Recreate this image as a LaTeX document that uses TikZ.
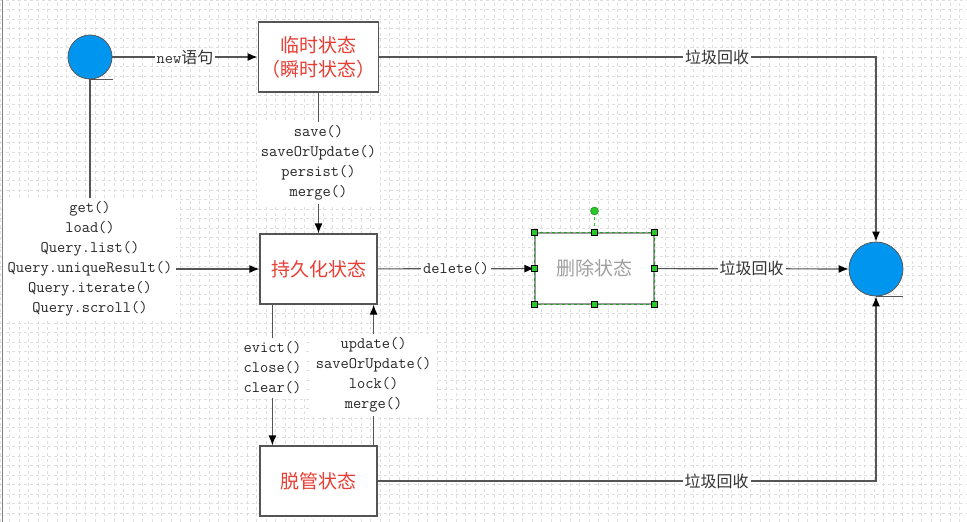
\documentclass[tikz,border=0pt]{standalone}
\usepackage{fontspec}
\newfontfamily\cjk{Noto Sans CJK SC}
\usetikzlibrary{arrows.meta, positioning, calc}
\definecolor{ballblue}{RGB}{0,150,240}
\definecolor{statered}{RGB}{232,62,52}
\definecolor{linegray}{RGB}{85,85,85}
\definecolor{handlegreen}{RGB}{40,200,40}

\begin{document}
\begin{tikzpicture}[x=1pt, y=-1pt,
    state/.style={draw=linegray, line width=1.2pt, fill=white, minimum width=117pt, minimum height=70pt,
        align=center, text=statered, font=\cjk\fontsize{19}{24}\selectfont},
    ball/.style={circle, draw=linegray, fill=ballblue, line width=0.8pt, inner sep=0pt},
    link/.style={draw=linegray, line width=1.2pt, -{Latex[length=10pt, width=8pt, black]}},
    lbl/.style={fill=white, inner sep=2pt, font=\cjk\fontsize{16}{20}\selectfont, text=black!80},
    mth/.style={fill=white, inner sep=4pt, align=center, text=black!85, font=\ttfamily\fontsize{16}{20}\selectfont},
    handle/.style={draw=black, fill=handlegreen, minimum size=6pt, inner sep=0pt}]

    \useasboundingbox (0,0) rectangle (967,522);
    \fill[white] (0,0) rectangle (967,522);
    \draw[gray!25, dashed, step=9.5pt] (0,0) grid (967,522);
    \draw[gray, line width=1pt] (2,0) -- (2,522);

    % states
    \node[ball, minimum size=44pt] (start) at (90,57) {};
    \node[ball, minimum size=54pt] (gc) at (876,269) {};
    \node[state] (trans) at (318.5,57) {临时状态\\（瞬时状态）};
    \node[state] (pers) at (318.5,269) {持久化状态};
    \node[state] (detach) at (318.5,481) {脱管状态};
    \node[state, minimum width=119pt, minimum height=71pt, draw=linegray!60, text=gray!75] (removed) at (594.5,268.5) {删除状态};
    \draw[handlegreen!80!black, dashed] (removed.south west) rectangle (removed.north east);

    \draw[linegray, line width=1pt] (start.south) -- ++(23,0);
    \draw[linegray, line width=1pt] (gc.south) -- ++(27,0);

    % transitions
    \draw[link] (start) -- node[lbl] {{\ttfamily new}语句} (trans);
    \draw[link] (trans) -| node[lbl, pos=0.34] {垃圾回收} (gc);
    \draw[link] (start) |- node[mth, pos=0.5, yshift=10pt] {get()\\load()\\Query.list()\\Query.uniqueResult()\\Query.iterate()\\Query.scroll()} (pers);
    \draw[link] (trans) -- node[mth] {save()\\saveOrUpdate()\\persist()\\merge()} (pers);
    \draw[link] (pers) -- node[mth, inner sep=2pt] {delete()} (removed);
    \draw[link] (removed) -- node[lbl] {垃圾回收} (gc);
    \draw[link] (detach) -| node[lbl, pos=0.34] {垃圾回收} (gc);
    \draw[link] ([xshift=13pt]pers.south west) -- node[mth, align=left, pos=0.45] {evict()\\close()\\clear()} ([xshift=13pt]detach.north west);
    \draw[link] ([xshift=-4pt]detach.north east) -- node[mth] {update()\\saveOrUpdate()\\lock()\\merge()} ([xshift=-4pt]pers.south east);

    % selection handles
    \node[circle, draw=handlegreen!60!black, fill=handlegreen, minimum size=8pt, inner sep=0pt] (rot) at (594.5,211) {};
    \draw[handlegreen, dashed] (removed.north) -- (rot);
    \foreach \a in {north west, north, north east, east, south east, south, south west, west}
        \node[handle] at (removed.\a) {};
\end{tikzpicture}
\end{document}
